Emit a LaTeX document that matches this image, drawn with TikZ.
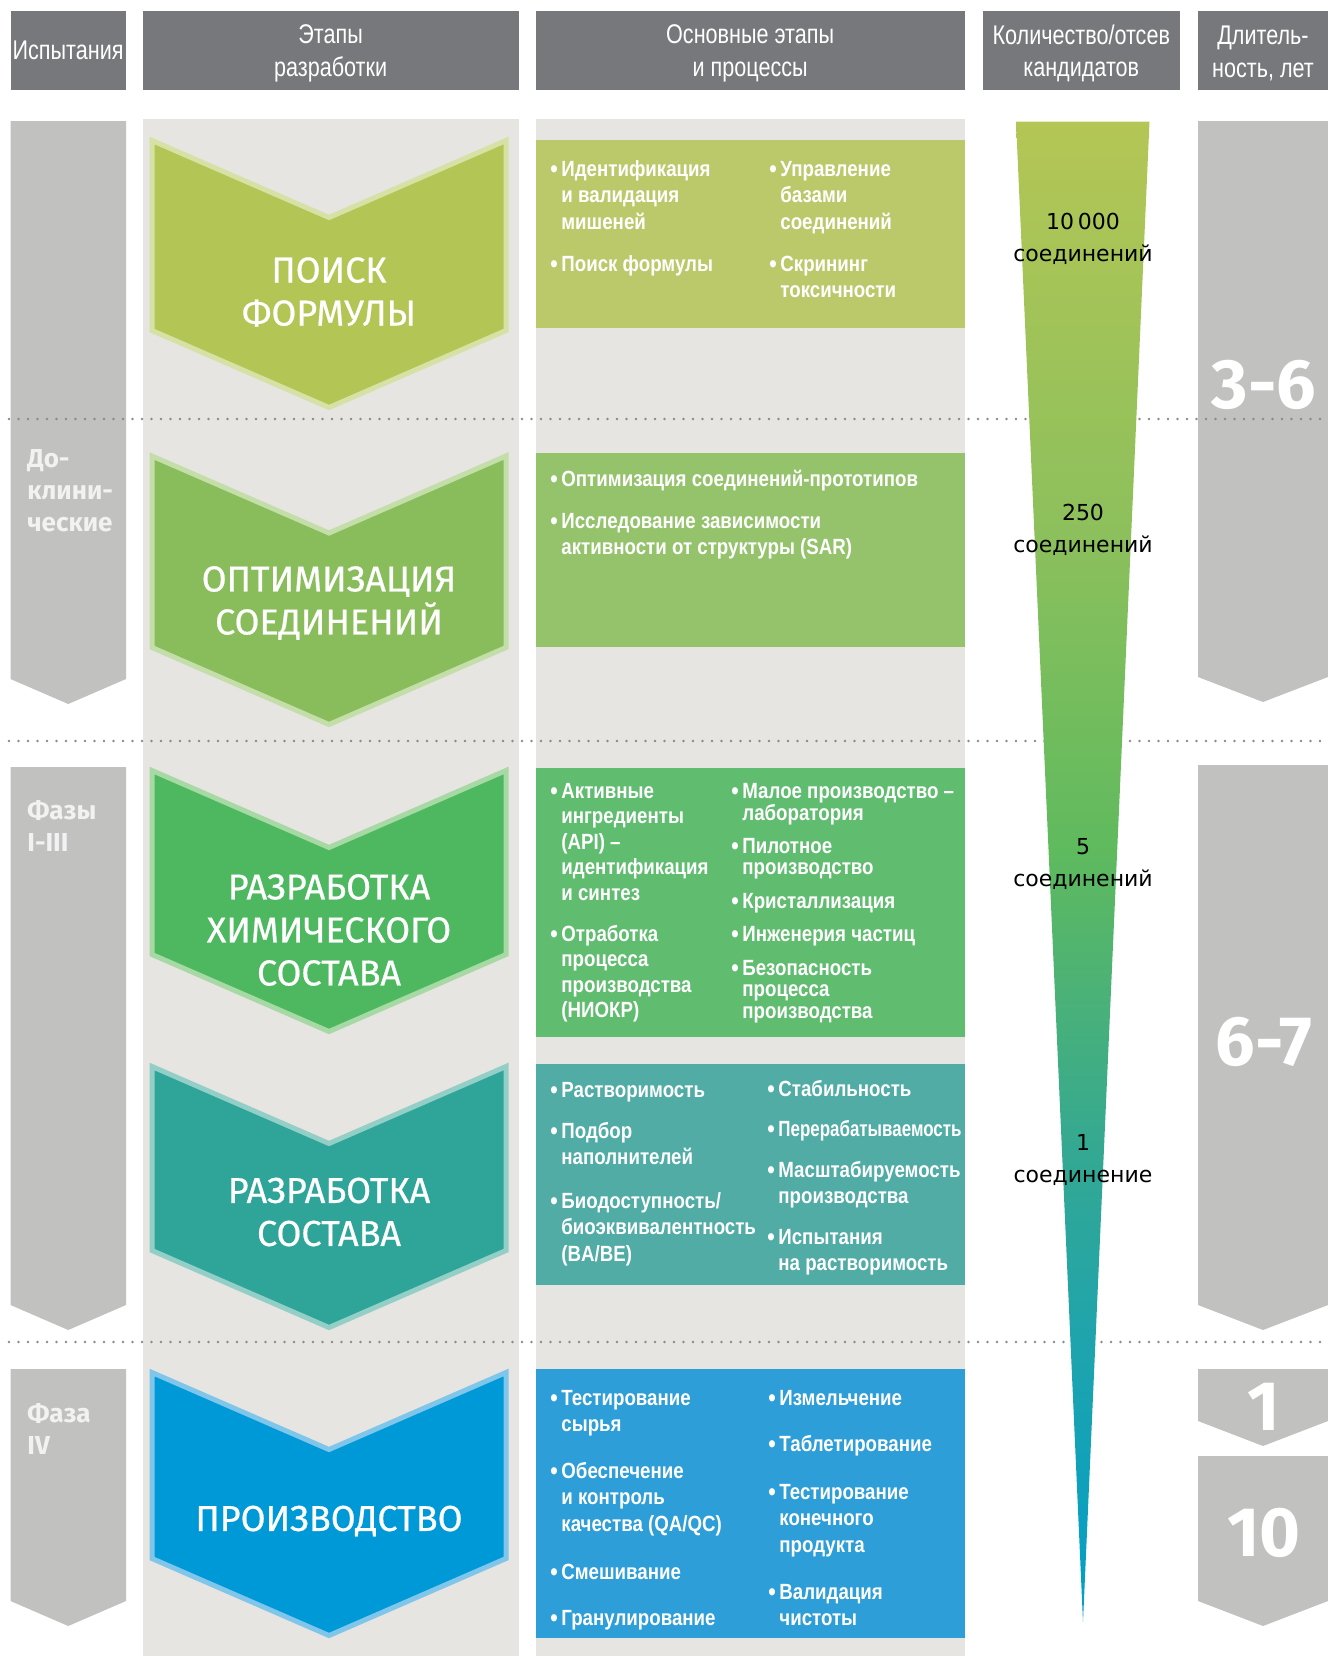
\documentclass[tikz,border=0pt]{standalone}
\usepackage{fontspec}
\setmainfont{Liberation Sans}
\newfontfamily\headfont{Liberation Sans}[FakeStretch=0.8]
\newfontfamily\itemfont{Liberation Sans}[FakeStretch=0.85]
\newfontfamily\narrowfont{Liberation Sans}[FakeStretch=0.77]
\newfontfamily\stagefont{Fira Sans}[FakeBold=0.6]
\newfontfamily\phasefont{Fira Sans}
\newfontfamily\countfont{DejaVu Sans}
\newcommand{\itemlines}[1]{\begin{tabular}[t]{@{}l@{}}#1\end{tabular}}
\newcommand{\countlines}[1]{\begin{tabular}[t]{@{}c@{}}#1\end{tabular}}

\definecolor{hdrgray}{HTML}{77787B}
\definecolor{colgray}{HTML}{C1C1C0}
\definecolor{bggray}{HTML}{E6E5E1}
\definecolor{dotgray}{HTML}{8A8A8A}
\definecolor{boxA}{HTML}{BCC96A}
\definecolor{boxB}{HTML}{94C36C}
\definecolor{boxC}{HTML}{60BD70}
\definecolor{boxD}{HTML}{50ACA5}
\definecolor{boxE}{HTML}{2E9ED8}
\definecolor{chvA}{HTML}{B3C655}
\definecolor{chvAline}{HTML}{D6E1A6}
\definecolor{chvB}{HTML}{89BD5B}
\definecolor{chvBline}{HTML}{C4DEAA}
\definecolor{chvC}{HTML}{4DB860}
\definecolor{chvCline}{HTML}{A6D9A4}
\definecolor{chvD}{HTML}{2FA599}
\definecolor{chvDline}{HTML}{93CFC7}
\definecolor{chvE}{HTML}{0099D8}
\definecolor{chvEline}{HTML}{80C6EA}
\definecolor{fnlA}{HTML}{B4C655}
\definecolor{fnlB}{HTML}{8DC05C}
\definecolor{fnlC}{HTML}{5FBA5E}
\definecolor{fnlD}{HTML}{34A892}
\definecolor{fnlE}{HTML}{1FA4AD}
\definecolor{fnlF}{HTML}{009EC8}

\pgfdeclareverticalshading{funnelshade}{100bp}{color(0bp)=(fnlF); color(25bp)=(fnlF); color(34.4bp)=(fnlE); color(40.7bp)=(fnlD); color(50.7bp)=(fnlC); color(61.4bp)=(fnlB); color(75bp)=(fnlA); color(100bp)=(fnlA)}

\begin{document}
\begin{tikzpicture}[
x=0.5pt,
y=-0.5pt,
hdr/.style={text=white, inner sep=0pt, align=center, font=\headfont\fontsize{13.5}{16.4}\selectfont},
itm/.style={anchor=base west, inner sep=0pt, text=white, font=\itemfont\bfseries\fontsize{11}{13.3}\selectfont},
itmmid/.style={itm, font=\itemfont\bfseries\fontsize{11}{12.8}\selectfont},
itmtight/.style={itm, font=\itemfont\bfseries\fontsize{11}{10.75}\selectfont},
bul/.style={itm, yshift=-0.8pt, font=\itemfont\bfseries\fontsize{12.5}{12.5}\selectfont},
stage/.style={text=white, inner sep=0pt, align=center, font=\stagefont\fontsize{18}{21.5}\selectfont},
phase/.style={itm, text=white!95!black, font=\phasefont\bfseries\fontsize{13}{16.2}\selectfont},
years/.style={text=white, inner sep=0pt, font=\phasefont\bfseries\fontsize{35}{40}\selectfont},
cnt/.style={anchor=base, inner sep=0pt, font=\countfont\fontsize{11}{16}\selectfont},
dotline/.style={dotgray, line width=1.3pt, line cap=round, dash pattern=on 0pt off 4.75pt},
]
\useasboundingbox (0,0) rectangle (1328,1656);
\foreach \xa/\xb/\yc/\txt [count=\k] in {10.5/125.7/50.5/Испытания, 142.6/518.7/53.5/{Этапы\\разработки}, 535.6/964.6/53.5/{Основные этапы\\и процессы}, 982.5/1180/53.5/{Количество/отсев\\кандидатов}, 1198/1328/53.5/{Длитель-\\ность, лет}}
{
 \fill[hdrgray] (\xa,10.5) rectangle (\xb,90);
 \node[hdr] (hdr\k) at ({(\xa+\xb)/2},\yc) {\txt};
}
\fill[bggray] (142.6,119) rectangle (518.7,1656);
\fill[bggray] (535.6,119) rectangle (964.6,1656);
\foreach \xa/\xb/\tp/\sb in {10.5/126/121/679, 10.5/126/767/1305, 10.5/126/1369/1601, 1198/1328/121/677, 1198/1328/765/1305, 1198/1328/1369/1421, 1198/1328/1456/1601}
{
 \fill[colgray] (\xa,\tp) -- (\xb,\tp) -- (\xb,\sb) -- ({(\xa+\xb)/2},\sb+25) -- (\xa,\sb) -- cycle;
}
\foreach \yy in {419,741,1342}
{
 \draw[dotline] (9,\yy) -- (1328,\yy);
}
\foreach \tp/\bt/\fc in {139.5/327.5/boxA, 453/646.6/boxB, 767.5/1036.5/boxC, 1063.5/1284.5/boxD, 1369/1637.5/boxE}
{
 \fill[\fc] (535.6,\tp) rectangle (964.6,\bt);
}
\foreach \tp/\sb/\fc/\lc in {140.5/330.5/chvA/chvAline, 456/647.5/chvB/chvBline, 770.5/954.5/chvC/chvCline, 1066.5/1250.5/chvD/chvDline, 1372.5/1558.5/chvE/chvEline}
{
 \filldraw[fill=\fc, draw=\lc, line width=2.5pt, line join=miter] (152,\tp) -- (329,\tp+77) -- (506,\tp) -- (506,\sb) -- (329,\sb+77) -- (152,\sb) -- cycle;
}
\shade[shading=funnelshade] (1016,121.5) -- (1149.5,121.5) -- (1083,1622) -- cycle;
\node[stage] (stg1) at (329,292) {ПОИСК\\ФОРМУЛЫ};
\node[stage] (stg2) at (329,603) {ОПТИМИЗАЦИЯ\\СОЕДИНЕНИЙ};
\node[stage] (stg3) at (329,930) {РАЗРАБОТКА\\ХИМИЧЕСКОГО\\СОСТАВА};
\node[stage] (stg4) at (329,1212) {РАЗРАБОТКА\\СОСТАВА};
\node[stage] (stg5) at (329,1521) {ПРОИЗВОДСТВО};
\node[phase] (ph1) at (27,467) {\itemlines{До-\\клини-\\ческие}};
\node[phase] (ph2) at (27,819) {\itemlines{Фазы\\I-III}};
\node[phase] (ph3) at (27,1422) {\itemlines{Фаза\\IV}};
\node[years] (yr1) at (1264,384.6) {3-6};
\node[years] (yr2) at (1264,1041.7) {6-7};
\node[years] (yr3) at (1264,1407) {1};
\node[years] (yr4) at (1264,1533) {10};
\node[cnt] (cnt1) at (1083,229) {\countlines{10\,000\\соединений}};
\node[cnt] (cnt2) at (1083,520) {\countlines{250\\соединений}};
\node[cnt] (cnt3) at (1083,854) {\countlines{5\\соединений}};
\node[cnt] (cnt4) at (1083,1150) {\countlines{1\\соединение}};
\foreach \bx/\by/\txt [count=\k] in {550/176/{Идентификация\\и валидация\\мишеней}, 550/271/{Поиск формулы}, 769/176/{Управление\\базами\\соединений}, 769/271/{Скрининг\\токсичности}, 550/486/{Оптимизация соединений-прототипов}, 550/528/{Исследование зависимости\\активности от структуры (SAR)}, 550/1097/{Растворимость}, 550/1138/{Подбор\\наполнителей}, 550/1208/{Биодоступность/\\биоэквивалентность\\(BA/BE)}, 767/1096/{Стабильность}, 767/1136/{\narrowfont Перерабатываемость}, 767/1177/{Масштабируемость\\производства}, 767/1244/{Испытания\\на растворимость}, 550/1405/{Тестирование\\сырья}, 550/1478/{Обеспечение\\и контроль\\качества (QA/QC)}, 550/1579/{Смешивание}, 550/1625/{Гранулирование}, 768/1405/{Измельчение}, 768/1451/{Таблетирование}, 768/1499/{Тестирование\\конечного\\продукта}, 768/1599/{Валидация\\чистоты}}
{
 \node[bul] (it\k-d) at (\bx,\by) {•};
 \node[itm] (it\k-t) at (\bx+11,\by) {\itemlines{\txt}};
}
\foreach \bx/\by/\txt [count=\k] in {550/798/{Активные\\ингредиенты\\(API) –\\идентификация\\и синтез}, 550/941/{Отработка\\процесса\\производства\\(НИОКР)}}
{
 \node[bul] (im\k-d) at (\bx,\by) {•};
 \node[itmmid] (im\k-t) at (\bx+11,\by) {\itemlines{\txt}};
}
\foreach \bx/\by/\txt [count=\k] in {731/798/{Малое производство –\\лаборатория}, 731/853/{Пилотное\\производство}, 731/908/{Кристаллизация}, 731/941/{Инженерия частиц}, 731/975/{Безопасность\\процесса\\производства}}
{
 \node[bul] (ir\k-d) at (\bx,\by) {•};
 \node[itmtight] (ir\k-t) at (\bx+11,\by) {\itemlines{\txt}};
}
\end{tikzpicture}
\end{document}
